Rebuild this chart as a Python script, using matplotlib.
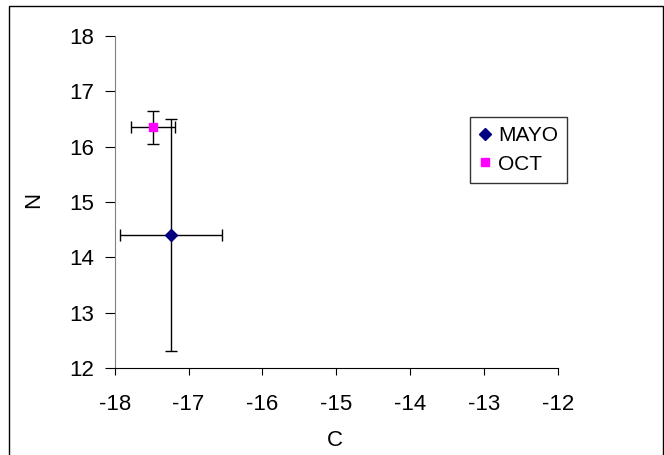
import matplotlib.pyplot as plt
from matplotlib.patches import Rectangle

plt.rcParams["font.family"] = ["Liberation Sans", "DejaVu Sans"]
plt.rcParams["axes.unicode_minus"] = False

# sampling campaigns: mean C / N with standard deviations
series = ["MAYO", "OCT"]
c_mean = [-17.24, -17.48]
c_sd = [0.69, 0.30]
n_mean = [14.40, 16.35]
n_sd = [2.10, 0.30]
markers = ["D", "s"]
colors = ["#000080", "#FF00FF"]
sizes = [6.5, 6]

fig = plt.figure(figsize=(6.64, 4.55), dpi=100)
ax = fig.add_axes([0.1729, 0.1912, 0.6669, 0.7297])

# outer frame of the chart area
fig.patches.append(Rectangle((8.5 / 664, -0.1), 654 / 664, 1.1 - 6 / 455,
                             transform=fig.transFigure, fill=False,
                             edgecolor="black", linewidth=1.0))

for name, x, xe, y, ye, m, c, s in zip(series, c_mean, c_sd, n_mean, n_sd,
                                       markers, colors, sizes):
    ax.errorbar(x, y, xerr=xe, yerr=ye, fmt="none", ecolor="black",
                elinewidth=1.0, capsize=4, capthick=1.0, zorder=2)
    ax.plot(x, y, linestyle="none", marker=m, markersize=s, color=c,
            label=name, zorder=3)

ax.set_xlim(-18, -12)
ax.set_ylim(12, 18)
ax.set_xticks(range(-18, -11))
ax.set_yticks(range(12, 19))
ax.tick_params(direction="out", width=0.8, labelsize=16, colors="black")
ax.tick_params(axis="x", length=5, pad=14)
ax.tick_params(axis="y", length=7, pad=8)
ax.spines["top"].set_visible(False)
ax.spines["right"].set_visible(False)
ax.spines["left"].set_color("#808080")
ax.spines["bottom"].set_color("black")

ax.set_xlabel("C", fontsize=16)
ax.set_ylabel("N", fontsize=16)
ax.xaxis.set_label_coords(0.497, -0.217)
ax.yaxis.set_label_coords(-0.1825, 0.506)
ax.xaxis.label.set_va("center")
ax.yaxis.label.set_va("center")
ax.yaxis.label.set_ha("center")

leg = ax.legend(loc="upper left", bbox_to_anchor=(0.802, 0.756),
                frameon=True, fancybox=False, fontsize=15, handlelength=0.5,
                handletextpad=0.4, borderpad=0.45, labelspacing=0.45,
                borderaxespad=0)
leg.get_frame().set_edgecolor("black")
leg.get_frame().set_linewidth(1.0)

fig.savefig("out.png", dpi=100)
